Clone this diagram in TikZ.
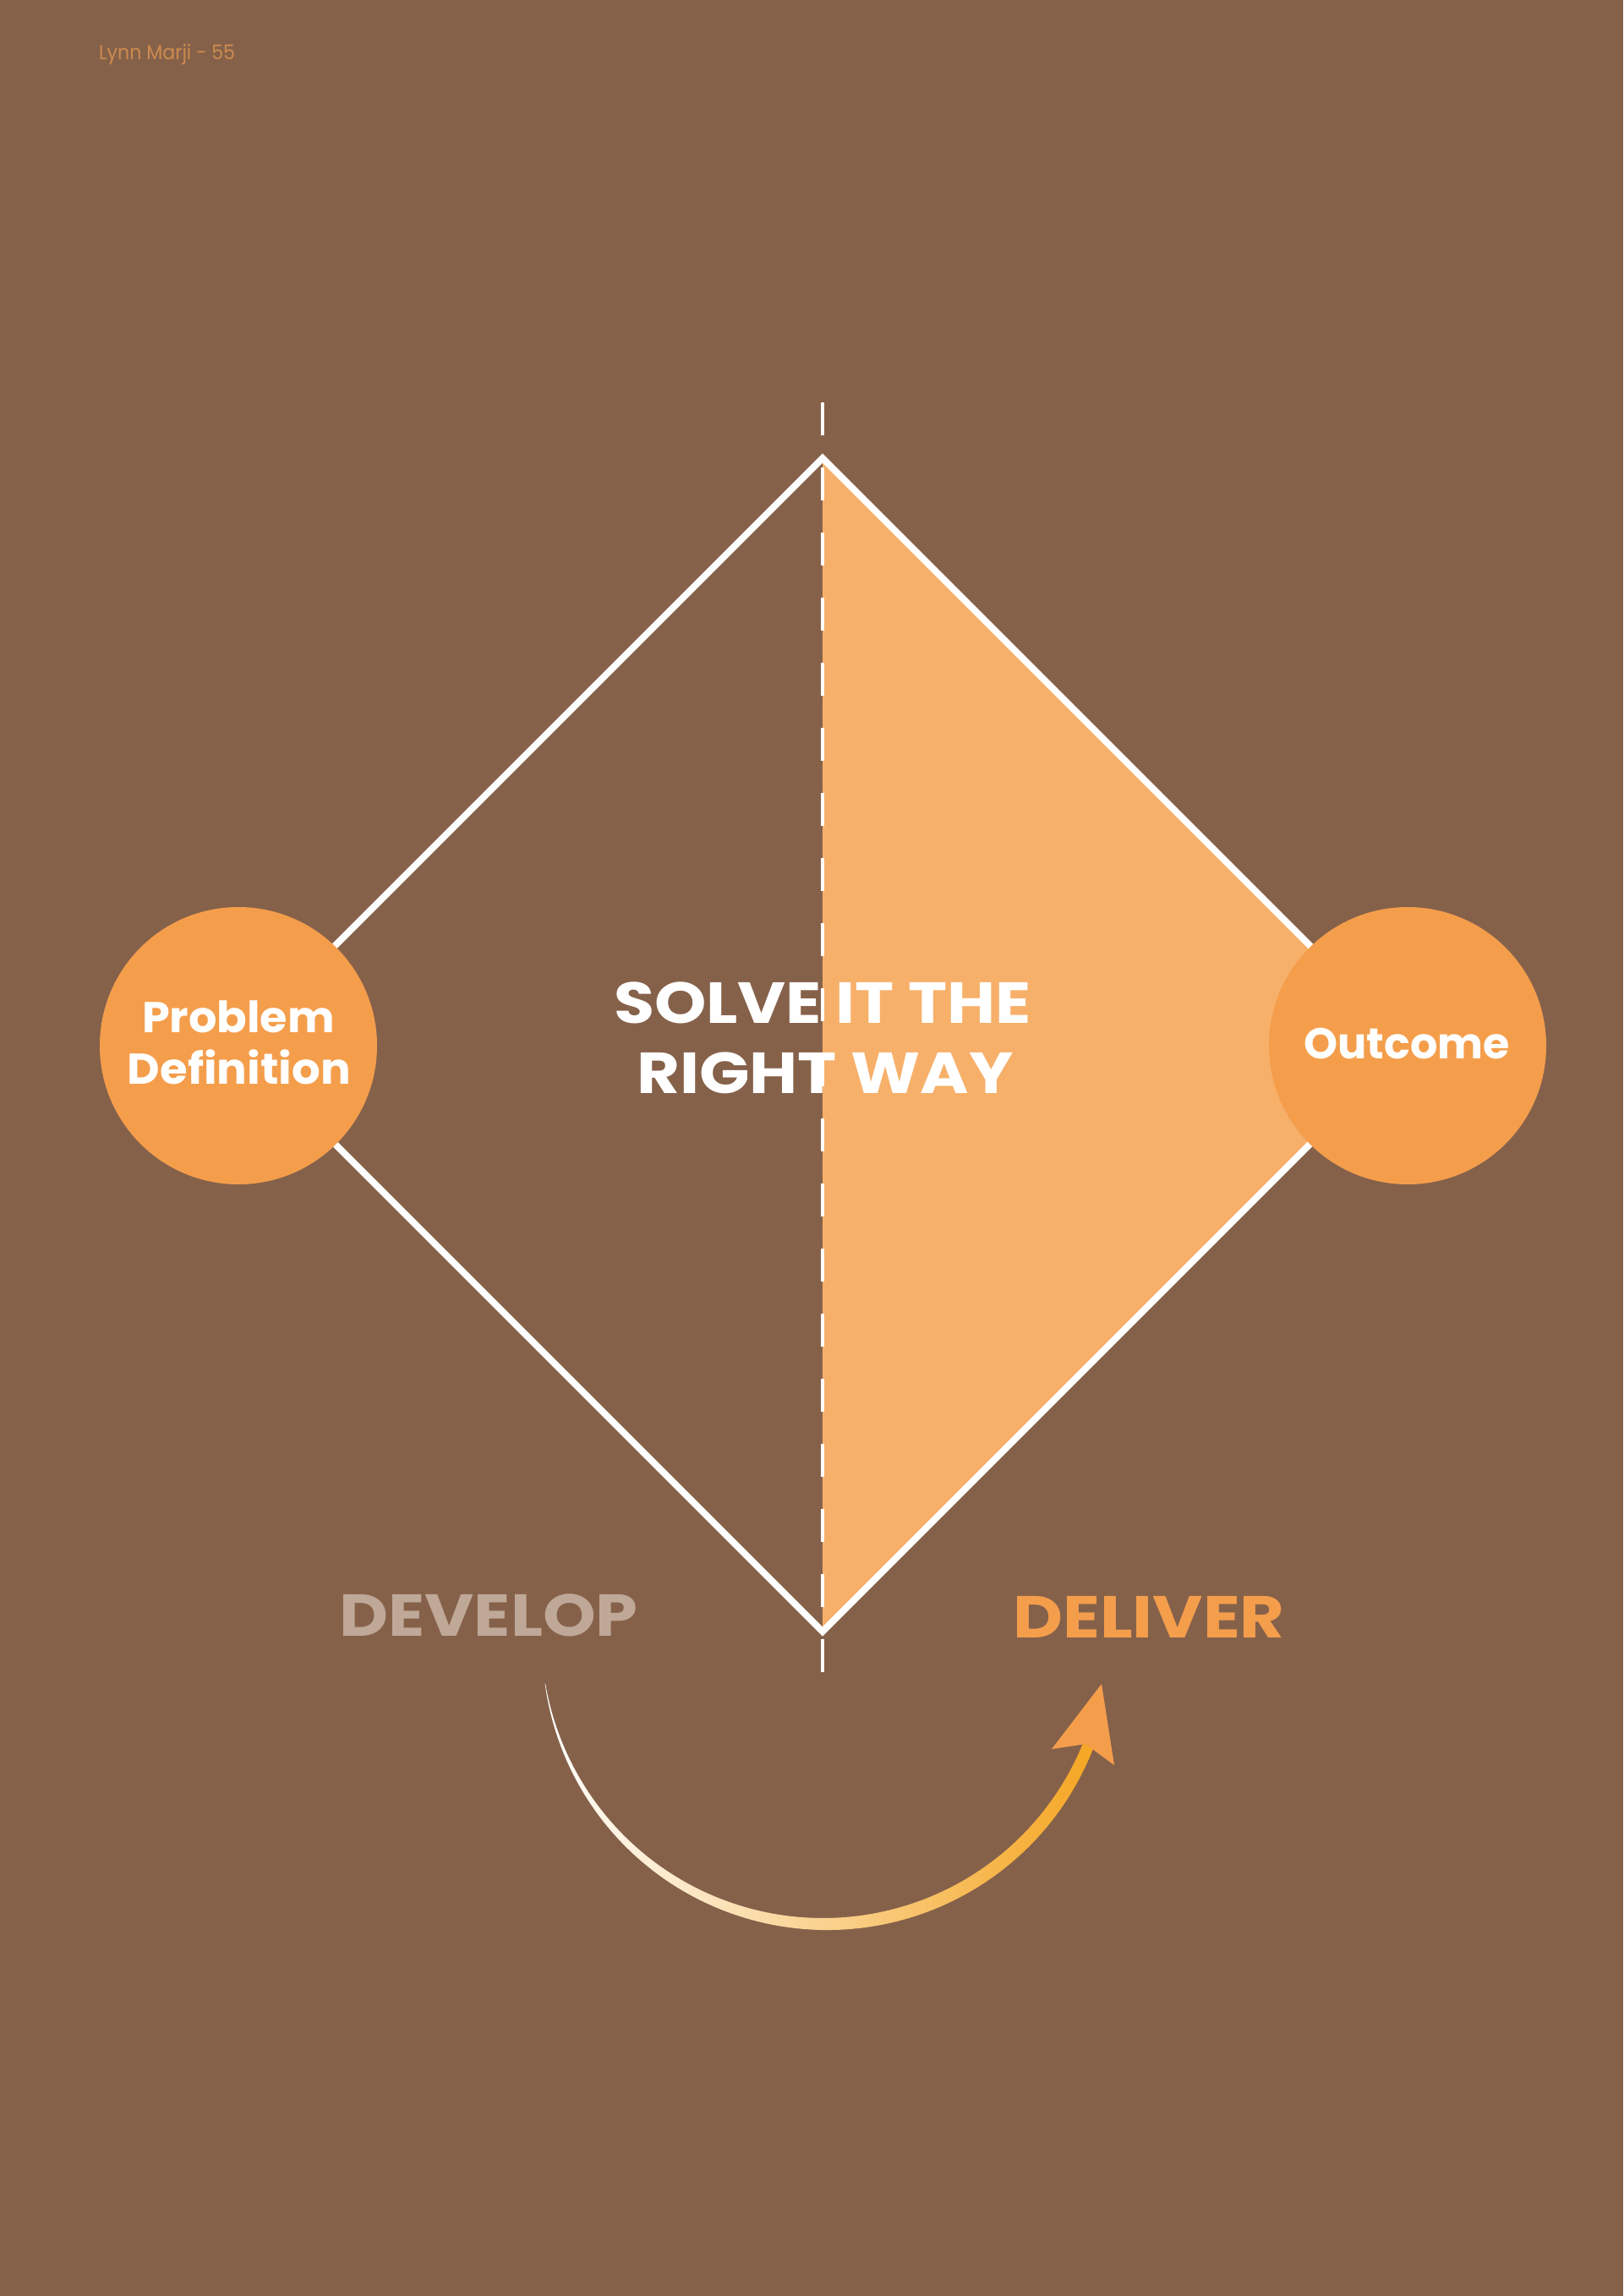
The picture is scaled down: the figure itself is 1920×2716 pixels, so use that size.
\documentclass[tikz,border=0pt]{standalone}
\usepackage{fontspec}
\usepackage{graphicx}
\setmainfont{Poppins}
\definecolor{bgbrown}{RGB}{134,97,74}
\definecolor{halffill}{RGB}{247,176,106}
\definecolor{circorange}{RGB}{244,158,76}
\definecolor{devgrey}{RGB}{191,168,151}
\definecolor{headcol}{RGB}{205,139,78}
\definecolor{arrowend}{RGB}{245,166,35}
\newcommand\hstretch[2]{\scalebox{#1}[1]{#2}}
\tikzset{
  bigtext/.style={anchor=base, inner sep=0pt, text=white, font=\fontsize{68.5pt}{83pt}\selectfont\bfseries},
  circtext/.style={anchor=base, inner sep=0pt, text=white, font=\fontsize{51pt}{61pt}\selectfont\bfseries},
  phasetext/.style={anchor=base, inner sep=0pt, font=\fontsize{70pt}{80pt}\selectfont\bfseries},
  circlebox/.style={circle, fill=circorange, minimum size=328pt, inner sep=0pt},
  diamondline/.style={white, line width=8pt, line join=miter},
  axisline/.style={white, line width=3.5pt, dash pattern=on 39pt off 38pt},
}
\begin{document}
\begin{tikzpicture}[x=1pt,y=-1pt]
\useasboundingbox (0,0) rectangle (1920,2716);
\fill[bgbrown] (0,0) rectangle (1920,2716);
% header
\node[anchor=base west, inner sep=0pt, text=headcol, font=\fontsize{24pt}{28pt}\selectfont] (head) at (117,71) {\hstretch{0.92}{Lynn Marji - 55}};
% diamond
\coordinate (top) at (973,542);
\coordinate (right) at (1667,1236);
\coordinate (bot) at (973,1930);
\coordinate (left) at (279,1236);
\coordinate (axtop) at (973,476);
\coordinate (axbot) at (973,1978);
\fill[halffill] (top) -- (right) -- (bot) -- cycle;
\draw[diamondline] (top) -- (right) -- (bot) -- (left) -- cycle;
\draw[axisline] (axtop) -- (axbot);
% circles
\node[circlebox] (pd) at (282,1237) {};
\node[circlebox] (oc) at (1665,1237) {};
\node[circtext] (pd1) at (282,1221) {\hstretch{1.03}{Problem}};
\node[circtext] (pd2) at (283,1282) {\hstretch{1.04}{Definition}};
\node[circtext] (oc1) at (1664,1252) {Outcome};
% title
\node[bigtext] (t1) at (973,1210) {\hstretch{1.14}{SOLVE IT THE}};
\node[bigtext] (t2) at (976,1293) {\hstretch{1.14}{RIGHT WAY}};
% phases
\node[phasetext, text=devgrey] (dev) at (578,1935) {\hstretch{1.14}{DEVELOP}};
\node[phasetext, text=circorange] (del) at (1359,1937) {\hstretch{1.16}{DELIVER}};
% curved arrow
\shade[left color=white, right color=arrowend]
  plot[domain=171.3:21.6, samples=120, variable=\a]
    ({976+(335.25+7.5*sin(0.8016*(171.3-\a)))*cos(\a)},
     {1941+(335.25+7.5*sin(0.8016*(171.3-\a)))*sin(\a)})
  -- plot[domain=21.6:171.3, samples=120, variable=\a]
    ({976+(334.75-7.5*sin(0.8016*(171.3-\a)))*cos(\a)},
     {1941+(334.75-7.5*sin(0.8016*(171.3-\a)))*sin(\a)})
  -- cycle;
\coordinate (tip) at (1303,1992);
\coordinate (barbL) at (1244,2069);
\coordinate (notch) at (1284,2063);
\coordinate (barbR) at (1318,2088);
\fill[circorange] (tip) -- (barbL) -- (notch) -- (barbR) -- cycle;
\end{tikzpicture}
\end{document}
